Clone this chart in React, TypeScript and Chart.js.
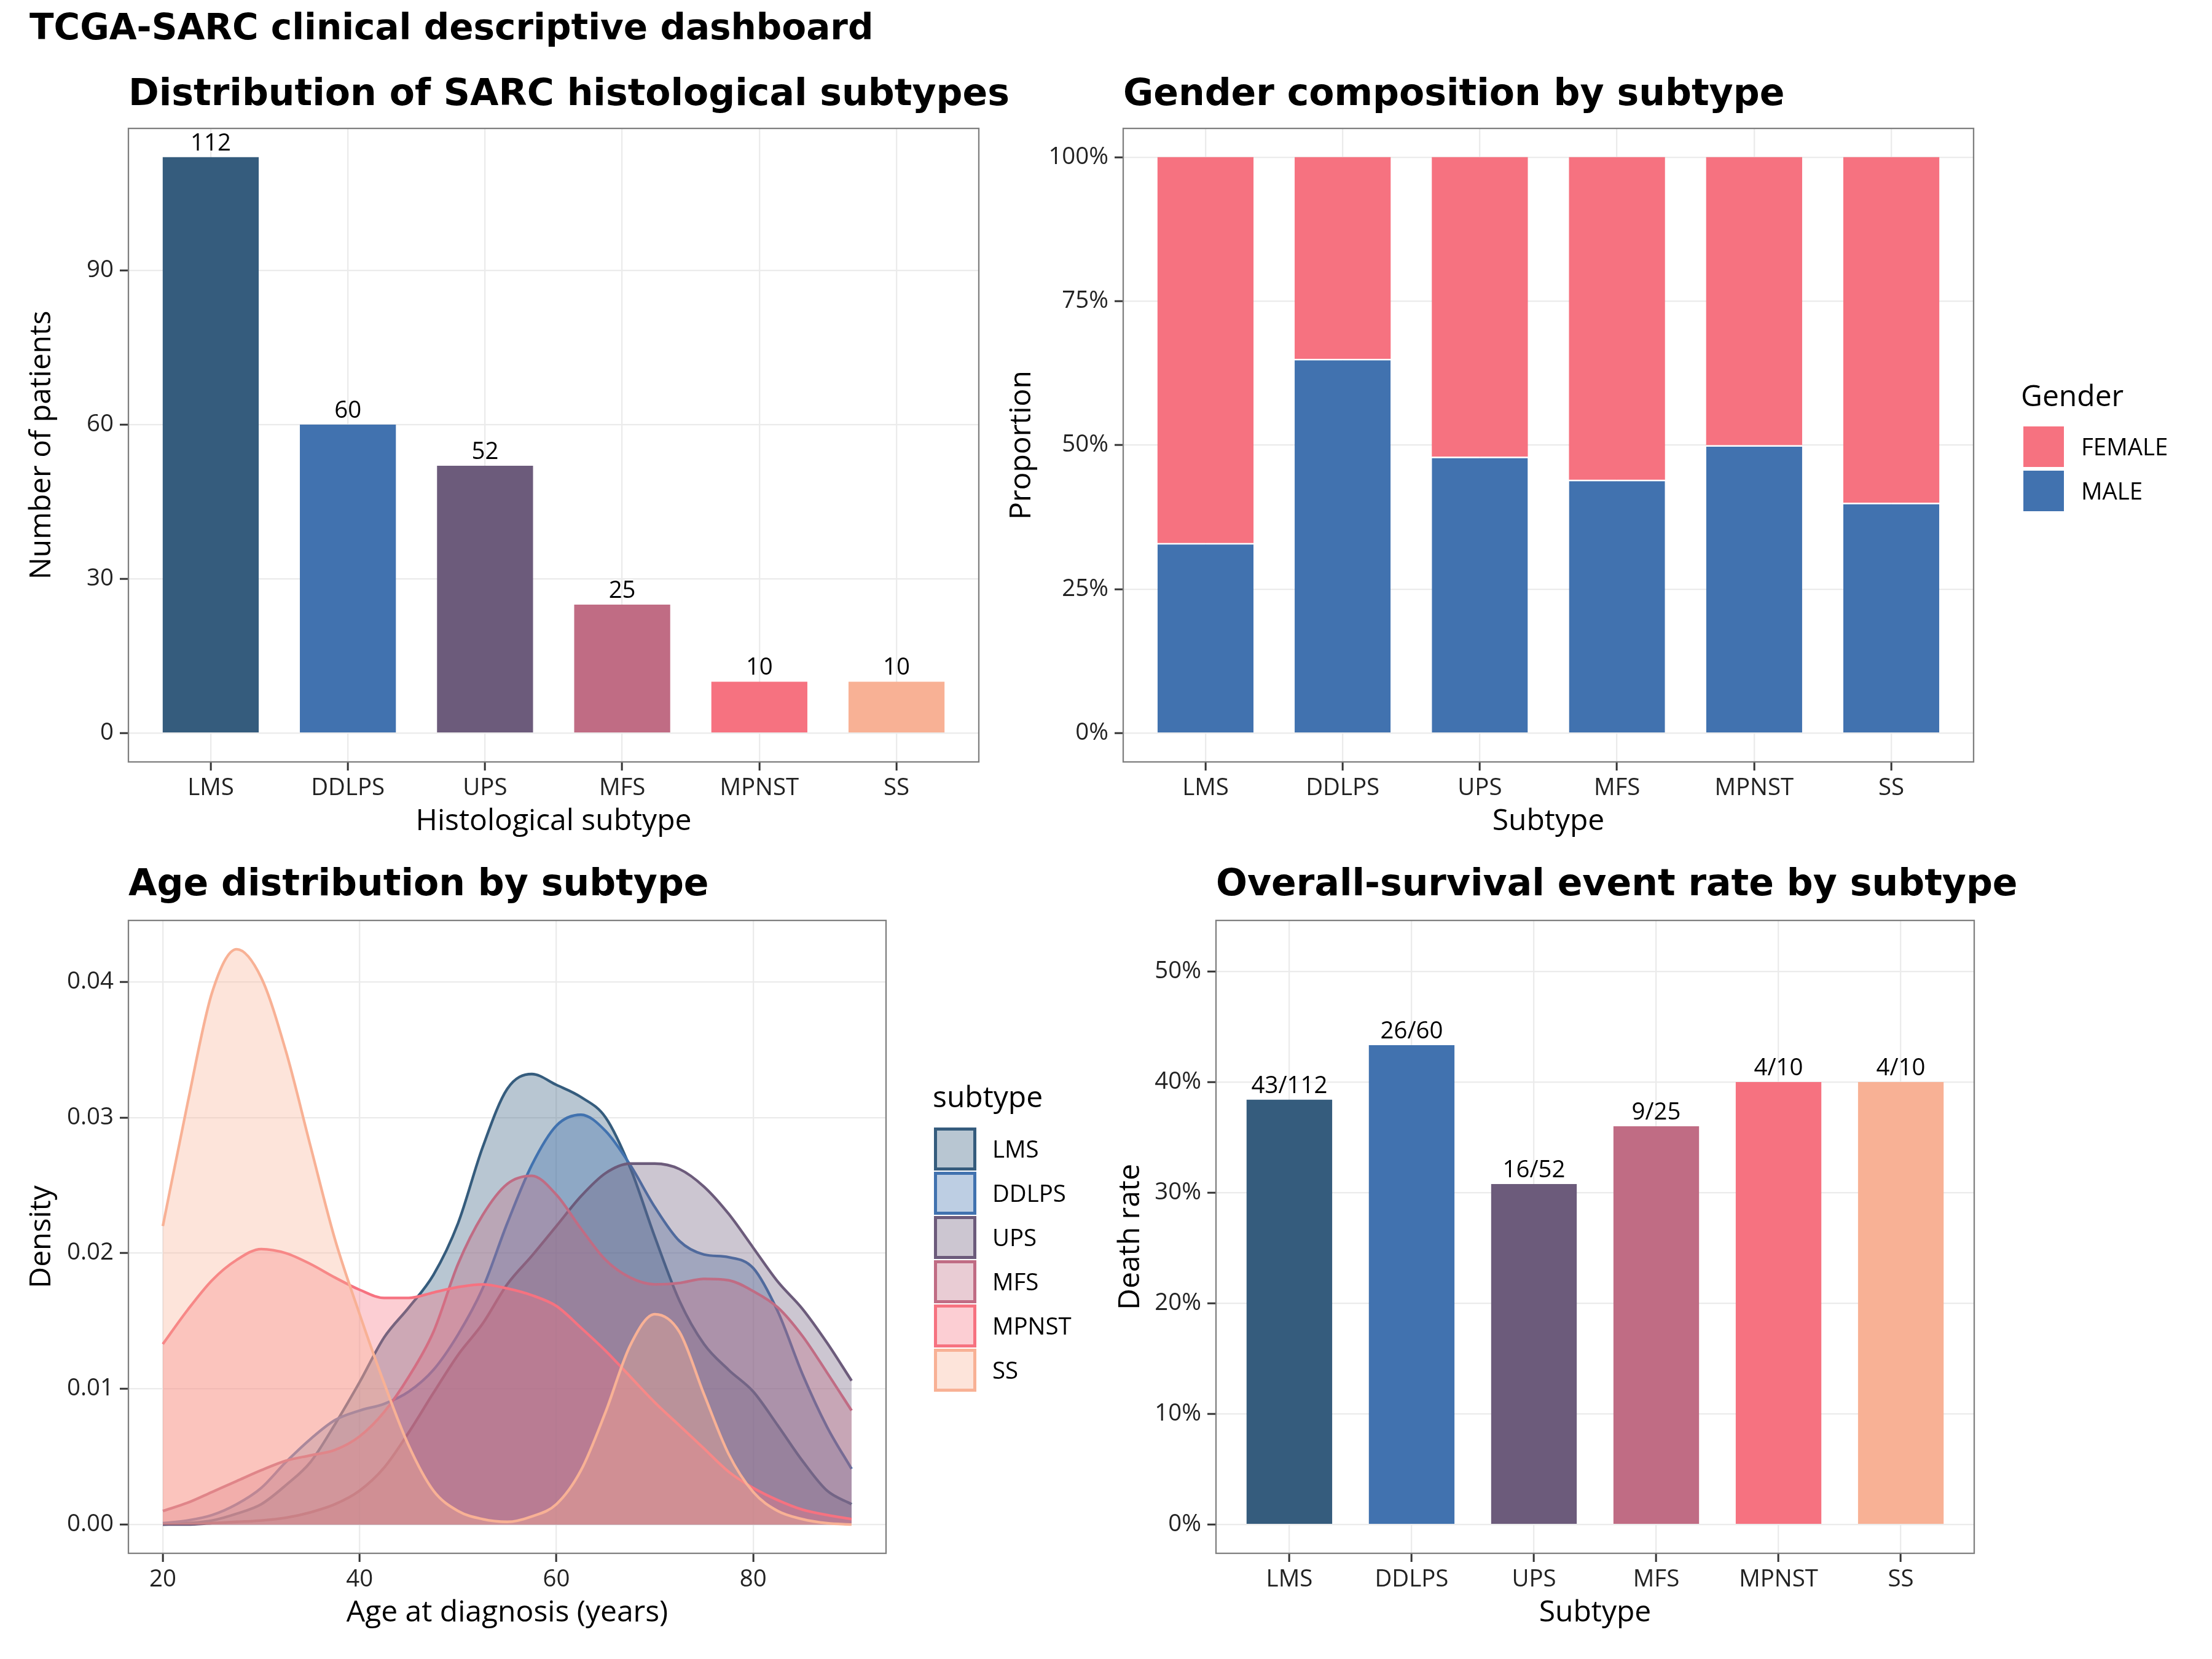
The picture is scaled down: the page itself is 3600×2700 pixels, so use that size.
import { useEffect, useRef } from 'react';
import { Chart, registerables } from 'chart.js';

Chart.register(...registerables);

// ---------------- data ----------------
const subtypes = ['LMS', 'DDLPS', 'UPS', 'MFS', 'MPNST', 'SS'];
const subtypeColors = ['#355C7D', '#4172AF', '#6C5B7B', '#C06C84', '#F67280', '#F8B195'];

const patientCounts = [112, 60, 52, 25, 10, 10];
const countTicks = [0, 30, 60, 90];

const genderLabels = ['FEMALE', 'MALE'];
const genderColors = ['#F67280', '#4172AF'];
const maleShare = [0.33, 0.65, 0.48, 0.44, 0.5, 0.4];
const femaleShare = [0.67, 0.35, 0.52, 0.56, 0.5, 0.6];
const shareTicks = [0, 0.25, 0.5, 0.75, 1];
const shareTickLabels = ['0%', '25%', '50%', '75%', '100%'];

const ageGrid = [20, 22.5, 25, 27.5, 30, 32.5, 35, 37.5, 40, 42.5, 45, 47.5, 50, 52.5, 55, 57.5, 60, 62.5, 65, 67.5, 70, 72.5, 75, 77.5, 80, 82.5, 85, 87.5, 90];
const densLMS = [0.0000, 0.0001, 0.0003, 0.0008, 0.0015, 0.0029, 0.0046, 0.0074, 0.0105, 0.0138, 0.0160, 0.0184, 0.0222, 0.0278, 0.0321, 0.0332, 0.0324, 0.0315, 0.0300, 0.0263, 0.0212, 0.0165, 0.0133, 0.0114, 0.0098, 0.0073, 0.0047, 0.0025, 0.0015];
const densDDLPS = [0.0001, 0.0003, 0.0007, 0.0015, 0.0027, 0.0046, 0.0063, 0.0077, 0.0084, 0.0089, 0.0098, 0.0114, 0.0140, 0.0174, 0.0222, 0.0265, 0.0294, 0.0302, 0.0290, 0.0265, 0.0234, 0.0209, 0.0199, 0.0197, 0.0189, 0.0157, 0.0111, 0.0072, 0.0041];
const densUPS = [0.0000, 0.0000, 0.0001, 0.0002, 0.0003, 0.0005, 0.0009, 0.0015, 0.0025, 0.0042, 0.0068, 0.0097, 0.0125, 0.0148, 0.0177, 0.0198, 0.0220, 0.0242, 0.0259, 0.0266, 0.0266, 0.0262, 0.0249, 0.0229, 0.0204, 0.0179, 0.0159, 0.0134, 0.0106];
const densMFS = [0.0010, 0.0016, 0.0024, 0.0032, 0.0040, 0.0047, 0.0051, 0.0055, 0.0065, 0.0083, 0.0109, 0.0142, 0.0192, 0.0228, 0.0251, 0.0257, 0.0243, 0.0218, 0.0195, 0.0182, 0.0177, 0.0178, 0.0181, 0.0180, 0.0172, 0.0160, 0.0139, 0.0112, 0.0084];
const densMPNST = [0.0133, 0.0158, 0.0180, 0.0195, 0.0203, 0.0200, 0.0192, 0.0182, 0.0173, 0.0167, 0.0167, 0.0171, 0.0175, 0.0177, 0.0174, 0.0169, 0.0161, 0.0145, 0.0128, 0.0109, 0.0090, 0.0073, 0.0056, 0.0039, 0.0027, 0.0018, 0.0011, 0.0007, 0.0004];
const densSS = [0.0220, 0.0310, 0.0392, 0.0424, 0.0403, 0.0349, 0.0279, 0.0210, 0.0155, 0.0104, 0.0058, 0.0025, 0.0010, 0.0004, 0.0002, 0.0006, 0.0015, 0.0040, 0.0083, 0.0132, 0.0155, 0.0142, 0.0096, 0.0052, 0.0024, 0.0010, 0.0004, 0.0001, 0.0000];
const densitySeries = [densLMS, densDDLPS, densUPS, densMFS, densMPNST, densSS];
const ageTicks = [20, 40, 60, 80];
const densityTicks = [0, 0.01, 0.02, 0.03, 0.04];
const densityTickLabels = ['0.00', '0.01', '0.02', '0.03', '0.04'];

const deaths = [43, 26, 16, 9, 4, 4];
const totals = [112, 60, 52, 25, 10, 10];
const rateTicks = [0, 0.1, 0.2, 0.3, 0.4, 0.5];
const rateTickLabels = ['0%', '10%', '20%', '30%', '40%', '50%'];

// ---------------- styling helpers ----------------
const SANS = "'Open Sans', sans-serif";
const TITLE_SANS = "'DejaVu Sans', sans-serif";
const TICK_COLOR = '#222222';
const tickFont = { family: SANS, size: 38.4, lineHeight: 1.2 };
const axisTitleFont = { family: SANS, size: 48, lineHeight: 1.2 };

const gridOpts = {
  color: '#EBEBEB',
  lineWidth: 2.3,
  drawTicks: true,
  tickLength: 14,
  tickColor: '#333333',
  tickWidth: 3,
  offset: false,
};

function hexToRgba(hex: string, a: number) {
  const n = parseInt(hex.slice(1), 16);
  return `rgba(${(n >> 16) & 255}, ${(n >> 8) & 255}, ${n & 255}, ${a})`;
}

// Panel title drawn left-aligned with the plot panel, at a given baseline (canvas coords)
function panelTitle(text: string, baseline: number) {
  return {
    id: 'panelTitle',
    afterDraw(chart: any) {
      const { ctx, chartArea } = chart;
      ctx.save();
      ctx.font = `bold 60px ${TITLE_SANS}`;
      ctx.fillStyle = '#000000';
      ctx.textAlign = 'left';
      ctx.textBaseline = 'alphabetic';
      ctx.fillText(text, chartArea.left, baseline);
      ctx.restore();
    },
  };
}

function catX(title: string, height: number, titlePad: number, stacked = false) {
  return {
    type: 'linear',
    min: 0.4,
    max: 6.6,
    bounds: 'data',
    offset: false,
    stacked,
    afterBuildTicks: (axis: any) => {
      axis.ticks = subtypes.map((_, i) => ({ value: i + 1 }));
    },
    ticks: {
      callback: (_v: any, i: number) => subtypes[i],
      font: tickFont,
      color: TICK_COLOR,
      padding: 6,
      maxRotation: 0,
      autoSkip: false,
    },
    grid: gridOpts,
    border: { display: false },
    title: { display: true, text: title, font: axisTitleFont, color: '#000', padding: { top: 0, bottom: titlePad } },
    afterFit: (s: any) => {
      s.height = height;
    },
  };
}

function numAxis(
  min: number,
  max: number,
  ticks: number[],
  labels: string[],
  title: string,
  size: number,
  titlePad: number,
  horizontal: boolean,
  stacked = false,
) {
  return {
    type: 'linear',
    min,
    max,
    bounds: 'data',
    offset: false,
    stacked,
    afterBuildTicks: (axis: any) => {
      axis.ticks = ticks.map((v) => ({ value: v }));
    },
    ticks: {
      callback: (_v: any, i: number) => labels[i],
      font: tickFont,
      color: TICK_COLOR,
      padding: horizontal ? 6 : 10,
      maxRotation: 0,
      autoSkip: false,
    },
    grid: gridOpts,
    border: { display: false },
    title: horizontal
      ? { display: true, text: title, font: axisTitleFont, color: '#000', padding: { top: 0, bottom: titlePad } }
      : { display: true, text: title, font: axisTitleFont, color: '#000', padding: { top: titlePad, bottom: 0 } },
    afterFit: (s: any) => {
      if (horizontal) s.height = size;
      else s.width = size;
    },
  };
}

const panelBorder = {
  id: 'panelBorder',
  afterDatasetsDraw(chart: any) {
    const { ctx, chartArea } = chart;
    const { left, top, right, bottom } = chartArea;
    ctx.save();
    ctx.strokeStyle = '#7F7F7F';
    ctx.lineWidth = 2.3;
    ctx.strokeRect(left, top, right - left, bottom - top);
    ctx.restore();
  },
};

function barLabels(texts: string[]) {
  return {
    id: 'barLabels',
    afterDatasetsDraw(chart: any) {
      const { ctx } = chart;
      const meta = chart.getDatasetMeta(0);
      ctx.save();
      ctx.font = `38.4px ${SANS}`;
      ctx.fillStyle = '#000000';
      ctx.textAlign = 'center';
      ctx.textBaseline = 'alphabetic';
      meta.data.forEach((el: any, i: number) => {
        ctx.fillText(texts[i], el.x, el.y - 11);
      });
      ctx.restore();
    },
  };
}

const baseOptions = {
  animation: false,
  responsive: false,
  maintainAspectRatio: false,
  devicePixelRatio: 1,
  events: [],
};

const noPlugins = { legend: { display: false }, tooltip: { enabled: false }, title: { display: false } };

// ---------------- chart configs ----------------
function buildCounts(): any {
  return {
    type: 'bar',
    data: {
      datasets: [
        {
          data: subtypes.map((_, i) => ({ x: i + 1, y: patientCounts[i] })),
          backgroundColor: subtypeColors,
          borderWidth: 0,
          barPercentage: 0.7,
          categoryPercentage: 1,
        },
      ],
    },
    options: {
      ...baseOptions,
      layout: { padding: { left: 0, right: 107, top: 209, bottom: 0 } },
      plugins: noPlugins,
      scales: {
        x: catX('Histological subtype', 150, 23.5),
        y: numAxis(-5.6, 117.6, countTicks, countTicks.map(String), 'Number of patients', 209, 40, false),
      },
    },
    plugins: [panelBorder, barLabels(patientCounts.map(String)), panelTitle('Distribution of SARC histological subtypes', 171)],
  };
}

function buildGender(): any {
  return {
    type: 'bar',
    data: {
      datasets: [
        {
          label: genderLabels[1],
          data: subtypes.map((_, i) => ({ x: i + 1, y: maleShare[i] })),
          backgroundColor: genderColors[1],
          borderColor: '#FFFFFF',
          borderWidth: { top: 2.5, right: 0, bottom: 0, left: 0 },
          barPercentage: 0.7,
          categoryPercentage: 1,
        },
        {
          label: genderLabels[0],
          data: subtypes.map((_, i) => ({ x: i + 1, y: femaleShare[i] })),
          backgroundColor: genderColors[0],
          borderWidth: 0,
          barPercentage: 0.7,
          categoryPercentage: 1,
        },
      ],
    },
    options: {
      ...baseOptions,
      layout: { padding: { left: 0, right: 388, top: 209, bottom: 0 } },
      plugins: noPlugins,
      scales: {
        x: catX('Subtype', 150, 23.5, true),
        y: numAxis(-0.05, 1.05, shareTicks, shareTickLabels, 'Proportion', 228, 35, false, true),
      },
    },
    plugins: [panelBorder, panelTitle('Gender composition by subtype', 171)],
  };
}

function buildDensity(): any {
  return {
    type: 'line',
    data: {
      datasets: subtypes.map((s, k) => ({
        label: s,
        data: ageGrid.map((a, i) => ({ x: a, y: densitySeries[k][i] })),
        borderColor: subtypeColors[k],
        backgroundColor: hexToRgba(subtypeColors[k], 0.35),
        borderWidth: 4.3,
        fill: 'origin',
        pointRadius: 0,
        cubicInterpolationMode: 'monotone',
        order: subtypes.length - k,
      })),
    },
    options: {
      ...baseOptions,
      layout: { padding: { left: 0, right: 258, top: 108, bottom: 0 } },
      plugins: noPlugins,
      scales: {
        x: numAxis(16.5, 93.5, ageTicks, ageTicks.map(String), 'Age at diagnosis (years)', 172, 45.5, true),
        y: numAxis(-0.00212, 0.04452, densityTicks, densityTickLabels, 'Density', 209, 40, false),
      },
    },
    plugins: [panelBorder, panelTitle('Age distribution by subtype', 67)],
  };
}

function buildRates(): any {
  return {
    type: 'bar',
    data: {
      datasets: [
        {
          data: subtypes.map((_, i) => ({ x: i + 1, y: deaths[i] / totals[i] })),
          backgroundColor: subtypeColors,
          borderWidth: 0,
          barPercentage: 0.7,
          categoryPercentage: 1,
        },
      ],
    },
    options: {
      ...baseOptions,
      layout: { padding: { left: 0, right: 387, top: 108, bottom: 0 } },
      plugins: noPlugins,
      scales: {
        x: catX('Subtype', 172, 45.5),
        y: numAxis(-0.026, 0.546, rateTicks, rateTickLabels, 'Death rate', 219, 52, false),
      },
    },
    plugins: [panelBorder, barLabels(deaths.map((d, i) => `${d}/${totals[i]}`)), panelTitle('Overall-survival event rate by subtype', 67)],
  };
}

// ---------------- components ----------------
function ChartPanel(props: { left: number; top: number; width: number; height: number; build: () => any }) {
  const { left, top, width, height, build } = props;
  const ref = useRef<HTMLCanvasElement | null>(null);
  useEffect(() => {
    if (!ref.current) return;
    const chart = new Chart(ref.current, build());
    return () => chart.destroy();
  }, [build]);
  return (
    <canvas
      ref={ref}
      width={width}
      height={height}
      style={{ position: 'absolute', left, top, width, height, display: 'block' }}
    />
  );
}

const textBase = { position: 'absolute' as const, whiteSpace: 'nowrap' as const, color: '#000' };

function GenderLegend() {
  return (
    <>
      <div style={{ ...textBase, left: 3289, top: 619.4, fontFamily: SANS, fontSize: 48, lineHeight: '48px' }}>Gender</div>
      {genderLabels.map((g, i) => (
        <div key={g}>
          <div
            style={{
              position: 'absolute',
              left: 3293,
              top: 694 + i * 72,
              width: 66,
              height: 66,
              background: genderColors[i],
            }}
          />
          <div
            style={{
              ...textBase,
              left: 3387,
              top: 727 + i * 72 - 20.4,
              fontFamily: SANS,
              fontSize: 38.4,
              lineHeight: '38.4px',
            }}
          >
            {g}
          </div>
        </div>
      ))}
    </>
  );
}

function SubtypeLegend() {
  return (
    <>
      <div style={{ ...textBase, left: 1518, top: 1760.4, fontFamily: SANS, fontSize: 48, lineHeight: '48px' }}>subtype</div>
      {subtypes.map((s, i) => (
        <div key={s}>
          <div
            style={{
              position: 'absolute',
              left: 1520,
              top: 1835 + i * 72,
              width: 69,
              height: 70,
              boxSizing: 'border-box',
              border: `5px solid ${subtypeColors[i]}`,
              background: hexToRgba(subtypeColors[i], 0.35),
            }}
          />
          <div
            style={{
              ...textBase,
              left: 1615,
              top: 1870 + i * 72 - 20.4,
              fontFamily: SANS,
              fontSize: 38.4,
              lineHeight: '38.4px',
            }}
          >
            {s}
          </div>
        </div>
      ))}
    </>
  );
}

export default function App() {
  return (
    <div style={{ position: 'absolute', left: 0, top: 0, width: 3600, height: 2700, background: '#FFFFFF', overflow: 'hidden' }}>
      <ChartPanel left={0} top={0} width={1700} height={1390} build={buildCounts} />
      <ChartPanel left={1600} top={0} width={2000} height={1390} build={buildGender} />
      <ChartPanel left={0} top={1390} width={1700} height={1310} build={buildDensity} />
      <ChartPanel left={1760} top={1390} width={1840} height={1310} build={buildRates} />
      <div
        style={{
          ...textBase,
          left: 48,
          top: 14.9,
          fontFamily: TITLE_SANS,
          fontWeight: 'bold',
          fontSize: 58,
          lineHeight: '58px',
        }}
      >
        TCGA-SARC clinical descriptive dashboard
      </div>
      <GenderLegend />
      <SubtypeLegend />
    </div>
  );
}
